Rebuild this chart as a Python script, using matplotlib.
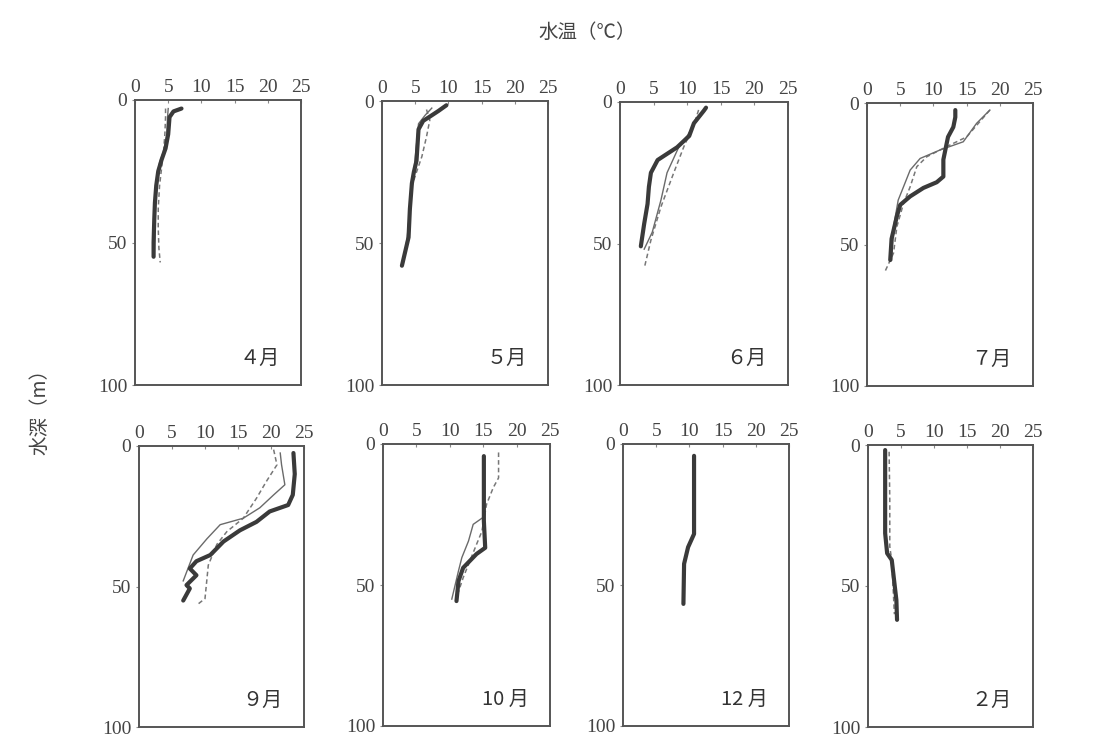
import matplotlib
matplotlib.use("Agg")
import matplotlib.pyplot as plt

plt.rcParams['font.family'] = ['Noto Sans CJK JP', 'DejaVu Sans']

months = ["４月", "５月", "６月", "７月", "９月", "10 月", "12 月", "２月"]

# (temperature list, depth list) for each series per month
thick_T = [
    [7.0, 5.8, 5.2, 5.0, 4.6, 4.0, 3.5, 3.2, 3.0, 2.9, 2.8, 2.8],
    [9.7, 8.5, 7.2, 6.2, 5.5, 5.2, 4.8, 4.5, 4.2, 4.0, 3.5, 3.0],
    [12.8, 12.5, 11.0, 10.3, 8.5, 5.6, 4.6, 4.3, 4.1, 3.6, 3.1],
    [13.3, 13.3, 13.0, 12.2, 11.5, 11.5, 10.5, 8.5, 6.5, 5.0, 4.5, 3.7, 3.5],
    [23.4, 23.6, 23.3, 22.6, 19.8, 17.8, 15.3, 12.8, 10.8, 8.7, 7.7, 8.7, 7.2, 7.7, 6.7],
    [15.1, 15.1, 15.3, 14.0, 12.0, 11.3, 11.0],
    [10.7, 10.7, 9.8, 9.2, 9.1],
    [2.6, 2.6, 2.9, 3.6, 4.3, 4.4],
]
thick_D = [
    [3, 4, 6, 12, 17, 21, 25, 30, 36, 42, 50, 55],
    [1.5, 3.5, 5.5, 7, 10, 21, 25, 29, 38, 48, 53, 58],
    [2, 3, 7.5, 12, 16, 20.5, 25, 30, 36, 43, 51],
    [2.5, 5, 8.5, 12, 20, 26, 28, 30, 33, 36, 40, 48, 55.5],
    [2.5, 10, 17.4, 21, 23.3, 27, 30, 34, 38.8, 41, 43.6, 46, 49.5, 50.7, 55],
    [4.3, 27.3, 36.8, 39, 43.9, 48.6, 55.7],
    [4.2, 31.9, 36.6, 42.5, 56.7],
    [1.8, 31.3, 38.4, 40.8, 55, 62],
]

thin_T = [
    [5.0, 4.9, 4.8, 4.3, 3.7, 3.3, 3.1, 3.0, 3.0, 2.9],
    [7.5, 6.5, 5.5, 5.0, 4.8, 4.5, 4.2, 3.8, 3.2],
    [12.6, 11.0, 10.0, 9.0, 7.0, 6.1, 4.8, 3.6],
    [18.5, 16.5, 14.5, 11.0, 8.0, 6.5, 5.5, 4.7, 4.0, 3.7],
    [21.4, 21.6, 22.1, 20.4, 18.3, 15.8, 12.3, 10.3, 8.2, 6.7],
    [15.0, 15.0, 13.5, 12.8, 11.8, 11.3, 10.3],
    [],
    [],
]
thin_D = [
    [3, 6, 12, 18, 22, 27, 33, 40, 48, 55],
    [2.5, 5, 8, 20, 25, 30, 38, 48, 57],
    [3, 8, 12, 14.6, 25, 34.6, 46, 52],
    [2.5, 7.2, 13.7, 16.6, 19.6, 23.7, 29.6, 34.3, 43.7, 55.5],
    [2.5, 6.7, 13.8, 17.4, 22, 25.7, 28, 33, 38.8, 48],
    [4.3, 26, 28.5, 34.4, 40.3, 45, 55],
    [],
    [],
]

dash_T = [
    [4.6, 4.6, 4.5, 4.3, 4.0, 3.7, 3.5, 3.5, 3.6, 3.8],
    [6.7, 7.2, 6.7, 6.0, 5.2, 4.5, 4.2, 4.0, 3.0],
    [11.7, 11.0, 9.5, 8.0, 6.1, 4.6, 3.6],
    [18.5, 15.0, 12.0, 9.0, 7.5, 6.5, 5.5, 4.5, 4.0, 2.7],
    [20.4, 20.9, 19.3, 17.8, 15.8, 13.3, 11.8, 10.5, 10.0, 8.7],
    [17.3, 17.3, 16.5, 15.5, 14.8, 14.0, 13.0, 12.0, 11.0],
    [],
    [3.2, 3.3, 3.3, 3.6, 4.0],
]
dash_D = [
    [3, 6, 12, 18, 24, 30, 38, 45, 52, 57],
    [3, 6.7, 12.6, 19.6, 25, 30, 38, 48, 58],
    [2.8, 8, 15.8, 25, 37, 48.8, 58.8],
    [2.5, 12, 15.4, 19, 22.5, 29.6, 35.5, 43.7, 53, 59.6],
    [1.3, 6.7, 12.6, 18.6, 25.7, 30.5, 35, 42.4, 54.3, 56.7],
    [3, 12, 15.5, 21.4, 31, 35.6, 41.5, 47.4, 54.5],
    [],
    [2.4, 19.5, 36, 41, 60],
]

xticks = [0, 5, 10, 15, 20, 25]
yticks = [0, 50, 100]

# axes pixel boxes (left, top, right, bottom)
boxes = [
    (135, 100, 301, 385), (382, 101, 548, 385), (620, 102, 788, 385), (867, 103, 1033, 386),
    (139, 446, 304, 727), (383, 444, 550, 726), (623, 444, 789, 726), (868, 445, 1033, 727),
]
W, H = 1113, 744
fig = plt.figure(figsize=(W / 100, H / 100), dpi=100)

for i, (l, t, r, b) in enumerate(boxes):
    ax = fig.add_axes([l / W, 1 - b / H, (r - l) / W, (b - t) / H])
    if dash_T[i]:
        ax.plot(dash_T[i], dash_D[i], color='#777777', lw=1.1, dashes=(3, 2))
    if thin_T[i]:
        ax.plot(thin_T[i], thin_D[i], color='#6a6a6a', lw=1.0)
    ax.plot(thick_T[i], thick_D[i], color='#3a3a3a', lw=3.0, solid_capstyle='round',
            solid_joinstyle='round')
    ax.set_xlim(0, 25)
    ax.set_ylim(100, 0)
    ax.xaxis.tick_top()
    ax.set_xticks(xticks)
    ax.set_yticks(yticks)
    ax.tick_params(axis='x', direction='in', length=2.5, width=0.8, color='#888888', pad=3,
                   labelsize=14, labelcolor='#444444')
    ax.tick_params(axis='y', direction='out', length=2.5, width=0.8, color='#888888', pad=3,
                   labelsize=14, labelcolor='#444444')
    for lab in ax.get_xticklabels() + ax.get_yticklabels():
        lab.set_fontfamily('Liberation Serif')
    for s in ax.spines.values():
        s.set_color('#555555')
        s.set_linewidth(1.4)
    ax.text(21.8, 90.5, months[i], ha='right', va='center', fontsize=14.5, color='#333333')

fig.text(587 / W, 1 - 32 / H, "水温（℃）", ha='center', va='center', fontsize=14, color='#444444')
fig.text(40 / W, 1 - 407 / H, "水深（m）", ha='center', va='center', rotation=90, fontsize=14,
         color='#444444')

fig.savefig("out.png", dpi=100, facecolor='white')
